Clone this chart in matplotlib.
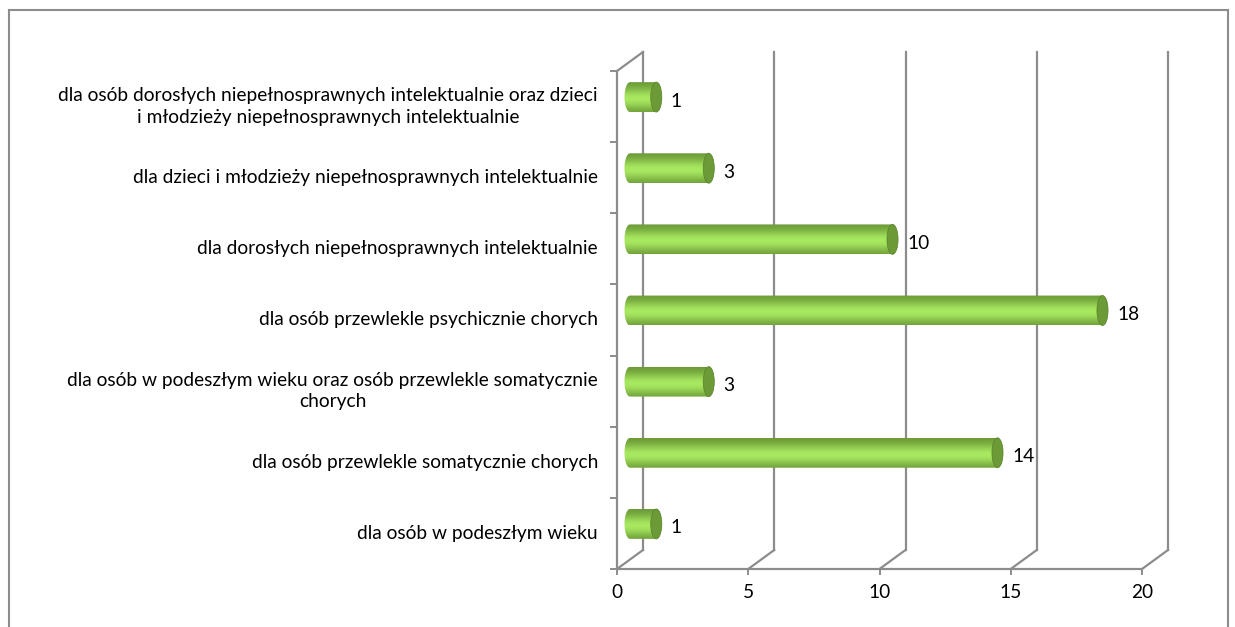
import numpy as np
import matplotlib
matplotlib.use('Agg')
import matplotlib.pyplot as plt
import matplotlib.transforms as mtransforms
from matplotlib.patches import Ellipse, PathPatch
from matplotlib.path import Path
from matplotlib.lines import Line2D

plt.rcParams['font.family'] = ['Lato', 'DejaVu Sans']

# data, bottom to top
categories = [
    'dla osób w podeszłym wieku',
    'dla osób przewlekle somatycznie chorych',
    'dla osób w podeszłym wieku oraz osób przewlekle somatycznie\nchorych',
    'dla osób przewlekle psychicznie chorych',
    'dla dorosłych niepełnosprawnych intelektualnie',
    'dla dzieci i młodzieży niepełnosprawnych intelektualnie',
    'dla osób dorosłych niepełnosprawnych intelektualnie oraz dzieci\ni młodzieży niepełnosprawnych intelektualnie',
]
values = [1, 14, 3, 18, 10, 3, 1]
xticks = [0, 5, 10, 15, 20]

W, H, DPI = 1235, 627, 100
FS = 13.8
fig = plt.figure(figsize=(W / DPI, H / DPI), dpi=DPI)

# plot box (front plane) in pixels
x0, x1 = 617, 1142
yb, yt = 569, 71
ax = fig.add_axes([x0 / W, (H - yb) / H, (x1 - x0) / W, (yb - yt) / H])
ax.set_xlim(0, 20)
ax.set_ylim(-0.5, len(categories) - 0.5)
ax.axis('off')

grid_c = '#8c8c8c'
ddx, ddy = 26, 19  # depth offset in pixels
back = ax.transData + mtransforms.ScaledTranslation(ddx / DPI, ddy / DPI, fig.dpi_scale_trans)
mid = ax.transData + mtransforms.ScaledTranslation(ddx / 2 / DPI, ddy / 2 / DPI, fig.dpi_scale_trans)

ytop = len(categories) - 0.5
ybot = -0.5


def fig_line(p, q, lw=1.6):
    fig.add_artist(Line2D([p[0] / W, q[0] / W], [p[1] / H, q[1] / H],
                          transform=fig.transFigure, color=grid_c, lw=lw))


# back wall gridlines + floor diagonals
for t in xticks:
    ax.add_line(Line2D([t, t], [ybot, ytop], transform=back, color=grid_c, lw=1.6, clip_on=False))
    fig_line(ax.transData.transform((t, ybot)), back.transform((t, ybot)))
# front floor line, left wall edge, top diagonal
ax.add_line(Line2D([0, 20], [ybot, ybot], color=grid_c, lw=1.6, clip_on=False))
ax.add_line(Line2D([0, 0], [ybot, ytop], color=grid_c, lw=1.6, clip_on=False))
fig_line(ax.transData.transform((0, ytop)), back.transform((0, ytop)))
# category tick marks
for k in range(len(categories) + 1):
    p = ax.transData.transform((0, k - 0.5))
    fig_line((p[0] - 6, p[1]), p, lw=1.4)
# x tick marks and labels
for t in xticks:
    p = ax.transData.transform((t, ybot))
    fig_line(p, (p[0], p[1] - 5), lw=1.4)
    fig.text(p[0] / W, (p[1] - 23) / H, str(t), ha='center', va='center', fontsize=FS)

# cylinders
bh = 0.42
ex = 0.21  # half width of end ellipses (data units)
grad = np.linspace(0, 1, 64)
prof = np.exp(-((grad - 0.55) / 0.36) ** 2)
c_dark = np.array([0.40, 0.58, 0.20])
c_light = np.array([0.66, 0.91, 0.38])
img = c_dark[None, :] + (c_light - c_dark)[None, :] * prof[:, None]
img = np.tile(img[:, None, :], (1, 2, 1))

for i, v in enumerate(values):
    yc = i
    th = np.linspace(np.pi / 2, 3 * np.pi / 2, 30)
    lx = ex * np.cos(th)
    ly = yc + bh / 2 * np.sin(th)
    verts = list(zip(lx, ly)) + [(v, yc - bh / 2), (v, yc + bh / 2), (lx[0], ly[0])]
    codes = [Path.MOVETO] + [Path.LINETO] * (len(verts) - 2) + [Path.CLOSEPOLY]
    clip = PathPatch(Path(verts, codes), transform=mid, facecolor='none', edgecolor='none')
    ax.add_patch(clip)
    im = ax.imshow(img, extent=[-ex, v, yc - bh / 2, yc + bh / 2],
                   aspect='auto', transform=mid, interpolation='bilinear', zorder=3)
    im.set_clip_path(clip)
    cap = Ellipse((v, yc), 2 * ex, bh, transform=mid, facecolor='#6c9a36',
                  edgecolor='#5c872c', lw=0.6, zorder=4)
    ax.add_patch(cap)
    pe = mid.transform((v + ex, yc))
    fig.text((pe[0] + 9) / W, (pe[1] - 4) / H, str(v), ha='left', va='center', fontsize=FS)

ax.set_xlim(0, 20)
ax.set_ylim(-0.5, len(categories) - 0.5)

# category labels
for i, lab in enumerate(categories):
    p = ax.transData.transform((0, i))
    fig.text(598 / W, p[1] / H, lab, ha='right', va='center', fontsize=FS,
             multialignment='center', linespacing=1.3)

# outer frame
for xs, ys in [([8.5, 8.5], [0, H - 9.5]), ([8.5, 1227.5], [H - 9.5, H - 9.5]),
               ([1227.5, 1227.5], [0, H - 9.5])]:
    fig.add_artist(Line2D([x / W for x in xs], [y / H for y in ys], transform=fig.transFigure,
                          color='#8c8c8c', lw=1.5))

fig.savefig('out.png', dpi=DPI)
